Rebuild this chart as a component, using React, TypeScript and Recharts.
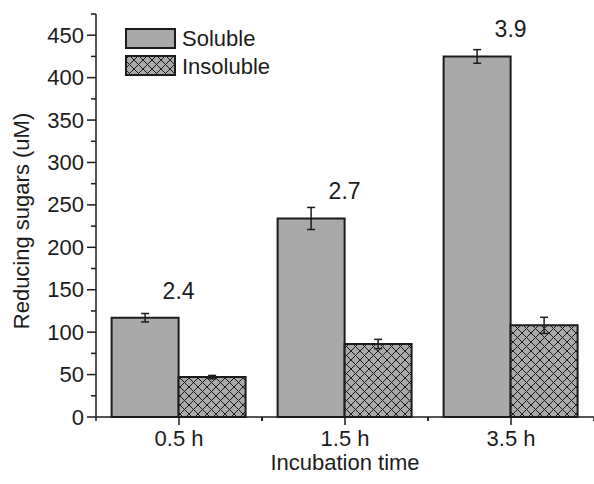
import React from "react";
import { BarChart, Bar, XAxis, YAxis, ErrorBar, LabelList } from "recharts";

const categories = ["0.5 h", "1.5 h", "3.5 h"];
const soluble = [117, 234, 425];
const solubleErr = [5, 13, 8];
const insoluble = [47, 86, 108];
const insolubleErr = [2, 5.5, 9.5];
const ratios = ["2.4", "2.7", "3.9"];
const yTicks = [0, 25, 50, 75, 100, 125, 150, 175, 200, 225, 250, 275, 300, 325, 350, 375, 400, 425, 450, 475];

const data = categories.map((name, i) => ({
  name,
  soluble: soluble[i],
  solubleErr: solubleErr[i],
  insoluble: insoluble[i],
  insolubleErr: insolubleErr[i],
  ratio: ratios[i],
}));

const FONT = "'Liberation Sans', Arial, sans-serif";
const INK = "#1c1c1c";
const GREY = "#a9a9a9";
const AXIS_X = 96;
const AXIS_Y = 417;
const BAND = (594 - AXIS_X) / 3;

const YTick = (props: any) => {
  const { y, payload } = props;
  const v = payload.value;
  const major = v % 50 === 0;
  return (
    <g>
      <line x1={AXIS_X} x2={AXIS_X - (major ? 9 : 5)} y1={y} y2={y} stroke={INK} strokeWidth={1.5} />
      {major && (
        <text x={AXIS_X - 12} y={y + 7.5} textAnchor="end" fontSize={22} fontFamily={FONT} fill={INK}>
          {v}
        </text>
      )}
    </g>
  );
};

const XTick = (props: any) => {
  const { x, payload } = props;
  return (
    <g>
      <line x1={x} x2={x} y1={AXIS_Y} y2={AXIS_Y + 8} stroke={INK} strokeWidth={1.5} />
      <line x1={x - BAND / 2} x2={x - BAND / 2} y1={AXIS_Y} y2={AXIS_Y + 4} stroke={INK} strokeWidth={1.5} />
      <line x1={x + BAND / 2} x2={x + BAND / 2} y1={AXIS_Y} y2={AXIS_Y + 4} stroke={INK} strokeWidth={1.5} />
      <text x={x} y={AXIS_Y + 29} textAnchor="middle" fontSize={22} fontFamily={FONT} fill={INK}>
        {payload.value}
      </text>
    </g>
  );
};

const YLabel = () => (
  <text x={0} y={0} transform="translate(29,221) rotate(-90)" textAnchor="middle" fontSize={22} fontFamily={FONT} fill={INK}>
    Reducing sugars (uM)
  </text>
);

const XLabel = () => (
  <text x={345} y={470} textAnchor="middle" fontSize={22} fontFamily={FONT} fill={INK}>
    Incubation time
  </text>
);

const RatioLabel = (props: any) => {
  const { x, y, width, value } = props;
  return (
    <text x={x + width} y={y - 19} textAnchor="middle" fontSize={23} fontFamily={FONT} fill={INK}>
      {value}
    </text>
  );
};

const LegendBox = () => (
  <svg width={220} height={64} style={{ position: "absolute", left: 125, top: 24 }}>
    <defs>
      <pattern id="hatchLegend" patternUnits="userSpaceOnUse" width={9} height={9}>
        <rect width={9} height={9} fill={GREY} />
        <path d="M0,0 L9,9 M9,0 L0,9" stroke={INK} strokeWidth={1} />
      </pattern>
    </defs>
    <rect x={1} y={5} width={49} height={19} fill={GREY} stroke={INK} strokeWidth={2} />
    <text x={57} y={22} fontSize={22} fontFamily={FONT} fill={INK}>Soluble</text>
    <rect x={1} y={32} width={49} height={19} fill="url(#hatchLegend)" stroke={INK} strokeWidth={2} />
    <text x={57} y={50} fontSize={22} fontFamily={FONT} fill={INK}>Insoluble</text>
  </svg>
);

export default function App() {
  return (
    <div style={{ position: "absolute", left: 0, top: 0, width: 594, height: 484, background: "#fff" }}>
      <BarChart
        width={594}
        height={484}
        data={data}
        margin={{ top: 14, right: 0, bottom: 0, left: 0 }}
        barGap={0}
        barCategoryGap="9.4%"
      >
        <defs>
          <pattern id="hatch" patternUnits="userSpaceOnUse" width={9} height={9}>
            <rect width={9} height={9} fill={GREY} />
            <path d="M0,0 L9,9 M9,0 L0,9" stroke={INK} strokeWidth={1} />
          </pattern>
        </defs>
        <XAxis
          dataKey="name"
          height={67}
          tickLine={false}
          tick={<XTick />}
          axisLine={{ stroke: INK, strokeWidth: 1.5 }}
          label={<XLabel />}
        />
        <YAxis
          width={96}
          domain={[0, 475]}
          ticks={yTicks}
          interval={0}
          tickLine={false}
          tick={<YTick />}
          axisLine={{ stroke: INK, strokeWidth: 1.5 }}
          label={<YLabel />}
        />
        <Bar dataKey="soluble" name="Soluble" fill={GREY} stroke={INK} strokeWidth={2} isAnimationActive={false}>
          <ErrorBar dataKey="solubleErr" width={4} stroke={INK} strokeWidth={1.5} />
          <LabelList dataKey="ratio" content={<RatioLabel />} />
        </Bar>
        <Bar dataKey="insoluble" name="Insoluble" fill="url(#hatch)" stroke={INK} strokeWidth={2} isAnimationActive={false}>
          <ErrorBar dataKey="insolubleErr" width={4} stroke={INK} strokeWidth={1.5} />
        </Bar>
      </BarChart>
      <LegendBox />
    </div>
  );
}
